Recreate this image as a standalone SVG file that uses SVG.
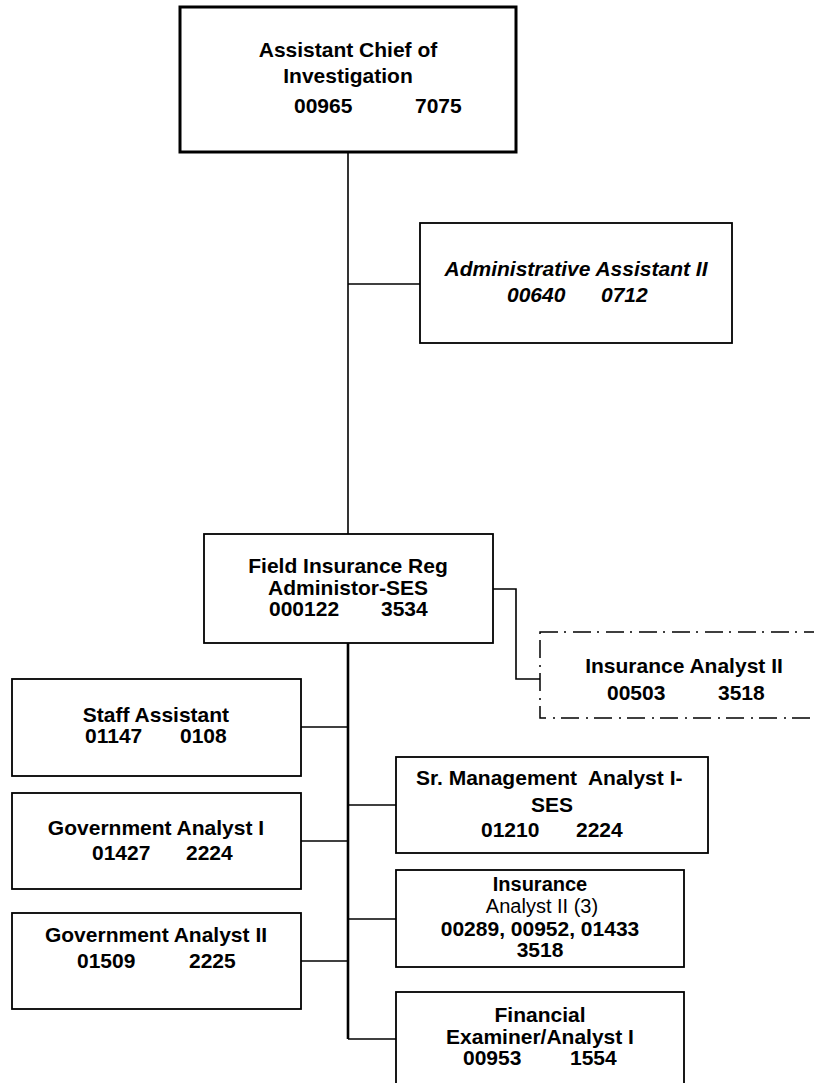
<svg xmlns="http://www.w3.org/2000/svg" width="814" height="1083" viewBox="0 0 814 1083">
  <style>
    .box { fill: #ffffff; stroke: #000000; stroke-width: 1.8; }
    .head { fill: #ffffff; stroke: #000000; stroke-width: 3; }
    .dash { fill: #ffffff; stroke: #000000; stroke-width: 1.5; stroke-dasharray: 18 6 2 7; }
    .ln { fill: none; stroke: #000000; stroke-width: 1.6; }
    .trunk { fill: none; stroke: #000000; stroke-width: 2.6; }
    text { font-family: "Liberation Sans", Arial, sans-serif; font-size: 21px; font-weight: bold; fill: #000000; }
    .c { text-anchor: middle; }
    .it { font-style: italic; }
    .reg { font-weight: normal; }
    .sm { font-size: 20px; }
  </style>

  <!-- connectors -->
  <g id="connectors">
    <path class="ln" d="M348 152 V534"/>
    <path class="ln" d="M348 284 H420"/>
    <path class="trunk" d="M348 643 V1039"/>
    <path class="ln" d="M493 589 H516 V679 H540"/>
    <path class="ln" d="M301 727 H348"/>
    <path class="ln" d="M301 841 H348"/>
    <path class="ln" d="M301 961 H348"/>
    <path class="ln" d="M348 805 H396"/>
    <path class="ln" d="M348 919 H396"/>
    <path class="ln" d="M348 1039 H396"/>
  </g>

  <g id="assistant-chief">
    <rect class="head" x="180" y="7" width="336" height="145"/>
    <text class="c" x="348" y="57">Assistant Chief of</text>
    <text class="c" x="348" y="83">Investigation</text>
    <text x="294" y="113">00965</text>
    <text x="415" y="113">7075</text>
  </g>

  <g id="admin-assistant">
    <rect class="box" x="420" y="223" width="312" height="120"/>
    <text class="c it" x="576" y="276">Administrative Assistant II</text>
    <text class="it" x="507" y="302">00640</text>
    <text class="it" x="601" y="302">0712</text>
  </g>

  <g id="field-administrator">
    <rect class="box" x="204" y="534" width="289" height="109"/>
    <text class="c" x="348" y="573">Field Insurance Reg</text>
    <text class="c" x="348" y="595">Administor-SES</text>
    <text x="269" y="616">000122</text>
    <text x="381" y="616">3534</text>
  </g>

  <g id="insurance-analyst-503">
    <rect class="dash" x="540" y="632" width="290" height="86"/>
    <text class="c" x="684" y="673">Insurance Analyst II</text>
    <text x="607" y="700">00503</text>
    <text x="718" y="700">3518</text>
  </g>

  <g id="staff-assistant">
    <rect class="box" x="12" y="679" width="289" height="97"/>
    <text class="c" x="156" y="722">Staff Assistant</text>
    <text x="85" y="743">01147</text>
    <text x="180" y="743">0108</text>
  </g>

  <g id="government-analyst-1">
    <rect class="box" x="12" y="793" width="289" height="96"/>
    <text class="c" x="156" y="835">Government Analyst I</text>
    <text x="92" y="860">01427</text>
    <text x="186" y="860">2224</text>
  </g>

  <g id="government-analyst-2">
    <rect class="box" x="12" y="913" width="289" height="96"/>
    <text class="c" x="156" y="942">Government Analyst II</text>
    <text x="77" y="968">01509</text>
    <text x="189" y="968">2225</text>
  </g>

  <g id="sr-management-analyst">
    <rect class="box" x="396" y="757" width="312" height="96"/>
    <text x="416" y="785" xml:space="preserve">Sr. Management  Analyst I-</text>
    <text class="c" x="552" y="812">SES</text>
    <text x="481" y="837">01210</text>
    <text x="576" y="837">2224</text>
  </g>

  <g id="insurance-analysts-3">
    <rect class="box" x="396" y="870" width="288" height="97"/>
    <text class="c sm" x="540" y="891">Insurance</text>
    <text class="c reg sm" x="542" y="913">Analyst II (3)</text>
    <text class="c" x="540" y="936">00289, 00952, 01433</text>
    <text class="c" x="540" y="957">3518</text>
  </g>

  <g id="financial-examiner">
    <rect class="box" x="396" y="992" width="288" height="103"/>
    <text class="c" x="540" y="1022">Financial</text>
    <text class="c" x="540" y="1044">Examiner/Analyst I</text>
    <text x="463" y="1065">00953</text>
    <text x="570" y="1065">1554</text>
  </g>
</svg>
